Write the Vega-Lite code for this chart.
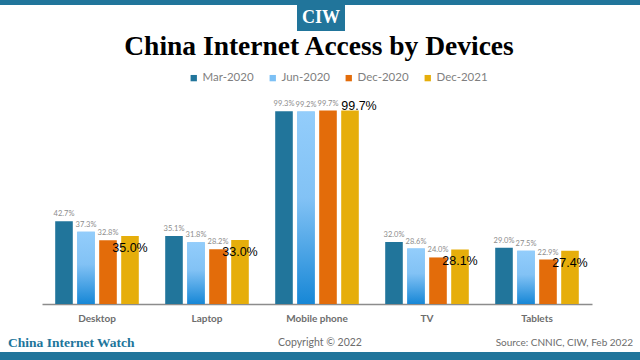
{
  "$schema": "https://vega.github.io/schema/vega-lite/v6.json",
  "autosize": {"type": "none"},
  "width": 550,
  "height": 194,
  "padding": {"left": 42, "top": 110, "right": 48, "bottom": 56},
  "background": "white",
  "config": {"view": {"stroke": null}},
  "layer": [
    {
      "data": {
        "values": [
          {"device": "Desktop", "period": "Mar-2020", "value": 42.7},
          {"device": "Desktop", "period": "Jun-2020", "value": 37.3},
          {"device": "Desktop", "period": "Dec-2020", "value": 32.8},
          {"device": "Desktop", "period": "Dec-2021", "value": 35.0},
          {"device": "Laptop", "period": "Mar-2020", "value": 35.1},
          {"device": "Laptop", "period": "Jun-2020", "value": 31.8},
          {"device": "Laptop", "period": "Dec-2020", "value": 28.2},
          {"device": "Laptop", "period": "Dec-2021", "value": 33.0},
          {"device": "Mobile phone", "period": "Mar-2020", "value": 99.3},
          {"device": "Mobile phone", "period": "Jun-2020", "value": 99.2},
          {"device": "Mobile phone", "period": "Dec-2020", "value": 99.7},
          {"device": "Mobile phone", "period": "Dec-2021", "value": 99.7},
          {"device": "TV", "period": "Mar-2020", "value": 32.0},
          {"device": "TV", "period": "Jun-2020", "value": 28.6},
          {"device": "TV", "period": "Dec-2020", "value": 24.0},
          {"device": "TV", "period": "Dec-2021", "value": 28.1},
          {"device": "Tablets", "period": "Mar-2020", "value": 29.0},
          {"device": "Tablets", "period": "Jun-2020", "value": 27.5},
          {"device": "Tablets", "period": "Dec-2020", "value": 22.9},
          {"device": "Tablets", "period": "Dec-2021", "value": 27.4}
        ]
      },
      "transform": [{"calculate": "format(datum.value, '.1f') + '%'", "as": "label"}],
      "encoding": {
        "x": {
          "field": "device",
          "type": "nominal",
          "sort": ["Desktop", "Laptop", "Mobile phone", "TV", "Tablets"],
          "scale": {"domain": ["Desktop", "Laptop", "Mobile phone", "TV", "Tablets"], "paddingInner": 0.2, "paddingOuter": 0.1},
          "axis": {
            "title": null,
            "labelAngle": 0,
            "labelFont": "Lato",
            "labelFontWeight": "bold",
            "labelFontSize": 10,
            "labelColor": "#6d6d6d",
            "labelPadding": 9,
            "ticks": false,
            "domainColor": "#8c8c8c",
            "domainWidth": 1.5
          }
        },
        "xOffset": {
          "field": "period",
          "type": "nominal",
          "scale": {"domain": ["Mar-2020", "Jun-2020", "Dec-2020", "Dec-2021"], "paddingInner": 0.2, "paddingOuter": 0.1}
        },
        "y": {
          "field": "value",
          "type": "quantitative",
          "scale": {"domain": [0, 100], "nice": false},
          "axis": null
        }
      },
      "layer": [
        {
          "mark": {"type": "bar"},
          "encoding": {
            "color": {
              "field": "period",
              "type": "nominal",
              "scale": {
                "domain": ["Mar-2020", "Jun-2020", "Dec-2020", "Dec-2021"],
                "range": ["#21759b", "#7cc0f5", "#e36c0a", "#e6ae0b"]
              },
              "legend": {
                "title": null,
                "orient": "none",
                "direction": "horizontal",
                "legendX": 146,
                "legendY": -38,
                "symbolType": "square",
                "symbolSize": 40,
                "symbolStrokeWidth": 0,
                "labelFont": "Lato",
                "labelFontSize": 11.5,
                "labelColor": "#7f7f7f",
                "labelOffset": 3,
                "columnPadding": 13
              }
            }
          }
        },
        {
          "transform": [{"filter": "datum.period === 'Jun-2020'"}],
          "mark": {
            "type": "bar",
            "fill": {
              "gradient": "linear",
              "x1": 0, "y1": 0, "x2": 0, "y2": 1,
              "stops": [
                {"offset": 0, "color": "#93cdfb"},
                {"offset": 0.45, "color": "#82c2f5"},
                {"offset": 1, "color": "#1787d6"}
              ]
            }
          }
        },
        {
          "transform": [{"filter": "datum.period !== 'Dec-2021'"}],
          "mark": {"type": "text", "font": "Lato", "fontSize": 7.5, "color": "#8c8c8c", "baseline": "bottom", "dy": -3},
          "encoding": {"text": {"field": "label"}}
        },
        {
          "transform": [{"filter": "datum.period === 'Dec-2021' && datum.value < 90"}],
          "mark": {"type": "text", "font": "Liberation Sans", "fontSize": 12.5, "color": "#000000", "baseline": "middle", "dy": 12},
          "encoding": {"text": {"field": "label"}}
        },
        {
          "transform": [{"filter": "datum.period === 'Dec-2021' && datum.value >= 90"}],
          "mark": {"type": "text", "font": "Liberation Sans", "fontSize": 12.5, "color": "#000000", "baseline": "alphabetic", "dy": -1, "dx": 9},
          "encoding": {"text": {"field": "label"}}
        }
      ]
    },
    {
      "data": {"values": [{"part": "top"}]},
      "mark": {"type": "rect", "color": "#21759b"},
      "encoding": {
        "x": {"value": -42}, "x2": {"value": 598},
        "y": {"value": -110}, "y2": {"value": -105}
      }
    },
    {
      "data": {"values": [{"part": "bottom"}]},
      "mark": {"type": "rect", "color": "#21759b"},
      "encoding": {
        "x": {"value": -42}, "x2": {"value": 598},
        "y": {"value": 242}, "y2": {"value": 250}
      }
    },
    {
      "data": {"values": [{"part": "logo"}]},
      "mark": {"type": "rect", "color": "#21759b"},
      "encoding": {
        "x": {"value": 255}, "x2": {"value": 303},
        "y": {"value": -106}, "y2": {"value": -79}
      }
    },
    {
      "data": {"values": [{"t": "CIW"}]},
      "mark": {"type": "text", "font": "Liberation Serif", "fontWeight": "bold", "fontSize": 18, "color": "white", "align": "center", "baseline": "middle"},
      "encoding": {"text": {"field": "t"}, "x": {"value": 279}, "y": {"value": -92}}
    },
    {
      "data": {"values": [{"t": "China Internet Access by Devices"}]},
      "mark": {"type": "text", "font": "Liberation Serif", "fontWeight": "bold", "fontSize": 27.5, "color": "#000000", "align": "center", "baseline": "alphabetic"},
      "encoding": {"text": {"field": "t"}, "x": {"value": 277}, "y": {"value": -55}}
    },
    {
      "data": {"values": [{"t": "China Internet Watch"}]},
      "mark": {"type": "text", "font": "Liberation Serif", "fontWeight": "bold", "fontSize": 13.5, "color": "#21759b", "align": "left", "baseline": "middle"},
      "encoding": {"text": {"field": "t"}, "x": {"value": -34}, "y": {"value": 233}}
    },
    {
      "data": {"values": [{"t": "Copyright © 2022"}]},
      "mark": {"type": "text", "font": "Lato", "fontSize": 10.5, "color": "#6d6d6d", "align": "center", "baseline": "middle"},
      "encoding": {"text": {"field": "t"}, "x": {"value": 278}, "y": {"value": 233}}
    },
    {
      "data": {"values": [{"t": "Source: CNNIC, CIW, Feb 2022"}]},
      "mark": {"type": "text", "font": "Lato", "fontSize": 10, "color": "#6d6d6d", "align": "right", "baseline": "middle"},
      "encoding": {"text": {"field": "t"}, "x": {"value": 591}, "y": {"value": 233}}
    }
  ]
}
